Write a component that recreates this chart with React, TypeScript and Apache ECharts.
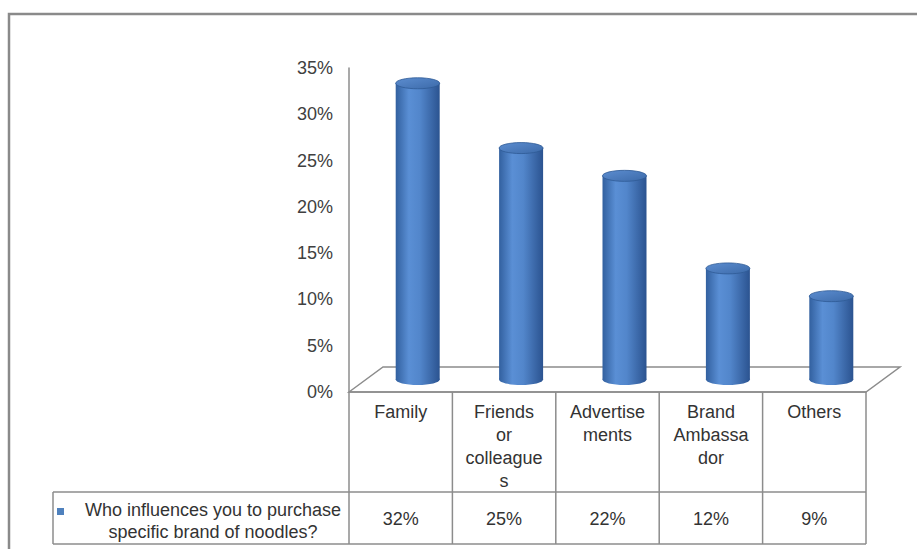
import React, { useEffect, useRef } from "react";
import * as echarts from "echarts";

// ---- data ----
const categories = ["Family", "Friends or colleagues", "Advertisements", "Brand Ambassador", "Others"];
const headerLabels = ["Family", "Friends\nor\ncolleague\ns", "Advertise\nments", "Brand\nAmbassa\ndor", "Others"];
const values = [32, 25, 22, 12, 9];
const seriesName = "Who influences you to purchase\nspecific brand of noodles?";
const yMin = 0;
const yMax = 35;
const yStep = 5;

// ---- layout ----
const FONT = "'Liberation Sans', Arial, sans-serif";
const GL = 349; // front grid left
const GT = 68; // front grid top
const GW = 517;
const GH = 324;
const DX = 34; // floor depth offset
const DY = 25;
const ROW1 = GT + GH + 100; // values row top
const ROW2 = ROW1 + 52;
const LEG_L = 53;
const LINE = "#8c8c8c";

export default function App() {
  const ref = useRef<HTMLDivElement>(null);
  useEffect(() => {
    if (!ref.current) return;
    const chart = echarts.init(ref.current, undefined, { renderer: "svg" });
    const floorY = GT + GH;
    const cols = categories.map((_, i) => GL + (i * GW) / categories.length).concat([GL + GW]);

    const bodyGrad = new echarts.graphic.LinearGradient(0, 0, 1, 0, [
      { offset: 0, color: "#32609f" },
      { offset: 0.3, color: "#5a8fd5" },
      { offset: 0.55, color: "#5286cb" },
      { offset: 1, color: "#2b5390" },
    ]);
    const topGrad = new echarts.graphic.LinearGradient(0, 0, 1, 1, [
      { offset: 0, color: "#5c8dd0" },
      { offset: 1, color: "#3c6aa9" },
    ]);

    const tableLines: any[] = [];
    const hline = (x1: number, x2: number, y: number) =>
      tableLines.push({ type: "line", z: 10, shape: { x1, y1: y, x2, y2: y }, style: { stroke: LINE, lineWidth: 1.5 } });
    const vline = (x: number, y1: number, y2: number) =>
      tableLines.push({ type: "line", z: 10, shape: { x1: x, y1, x2: x, y2 }, style: { stroke: LINE, lineWidth: 1.5 } });
    hline(GL, GL + GW, floorY);
    hline(LEG_L, GL + GW, ROW1);
    hline(LEG_L, GL + GW, ROW2);
    vline(LEG_L, ROW1, ROW2);
    cols.forEach((x) => vline(x, floorY, ROW2));

    const option: any = {
      animation: false,
      grid: [
        { left: GL, top: GT, width: GW, height: GH },
        { left: GL + DX / 2, top: GT - DY / 2, width: GW, height: GH },
      ],
      xAxis: [
        {
          gridIndex: 0,
          type: "category",
          data: headerLabels,
          axisLine: { show: false },
          axisTick: { show: false },
          splitLine: { show: false },
          axisLabel: { interval: 0, margin: 8, fontSize: 18, lineHeight: 23, color: "#333", fontFamily: FONT },
        },
        {
          gridIndex: 0,
          type: "category",
          position: "bottom",
          offset: ROW1 - floorY,
          data: values.map((v) => v + "%"),
          axisLine: { show: false },
          axisTick: { show: false },
          splitLine: { show: false },
          axisLabel: { interval: 0, margin: 15, fontSize: 18, lineHeight: 23, color: "#333", fontFamily: FONT },
        },
        { gridIndex: 1, type: "category", data: categories, show: false },
      ],
      yAxis: [
        {
          gridIndex: 0,
          type: "value",
          min: yMin,
          max: yMax,
          interval: yStep,
          axisLine: { show: true, lineStyle: { color: LINE, width: 1.5 } },
          axisTick: { show: false },
          splitLine: { show: false },
          axisLabel: { formatter: "{value}%", margin: 16, fontSize: 18, color: "#404040", fontFamily: FONT },
        },
        { gridIndex: 1, type: "value", min: yMin, max: yMax, interval: yStep, show: false, splitLine: { show: false } },
      ],
      graphic: [
        {
          type: "rect",
          z: 0,
          shape: { x: 9, y: 14, width: 1000, height: 700 },
          style: { fill: "none", stroke: "#8a8a8a", lineWidth: 2.5 },
        },
        {
          type: "polygon",
          z: 0,
          shape: { points: [[GL, floorY], [GL + DX, floorY - DY], [GL + GW + DX, floorY - DY], [GL + GW, floorY]] },
          style: { fill: "#fff", stroke: LINE, lineWidth: 1.5 },
        },
        ...tableLines,
        {
          type: "rect",
          z: 10,
          shape: { x: 57, y: 508, width: 7, height: 7 },
          style: { fill: "#4f81bd" },
        },
        {
          type: "text",
          z: 10,
          x: 213,
          y: (ROW1 + ROW2) / 2 + 3,
          style: {
            text: seriesName,
            align: "center",
            verticalAlign: "middle",
            fontSize: 18,
            lineHeight: 22,
            fill: "#333",
            fontFamily: FONT,
          },
        },
      ],
      series: [
        {
          type: "custom",
          name: seriesName,
          xAxisIndex: 2,
          yAxisIndex: 1,
          z: 5,
          data: values.map((v, i) => [i, v]),
          renderItem: (params: any, api: any) => {
            const x = api.value(0);
            const v = api.value(1);
            const top = api.coord([x, v]);
            const base = api.coord([x, 0]);
            const w = 44;
            const ry = 5.5;
            return {
              type: "group",
              children: [
                {
                  type: "rect",
                  shape: { x: top[0] - w / 2, y: top[1], width: w, height: base[1] - top[1] },
                  style: { fill: bodyGrad },
                },
                {
                  type: "ellipse",
                  shape: { cx: base[0], cy: base[1], rx: w / 2, ry },
                  style: { fill: bodyGrad },
                },
                {
                  type: "ellipse",
                  shape: { cx: top[0], cy: top[1], rx: w / 2, ry },
                  style: { fill: topGrad, stroke: "#2f5a96", lineWidth: 0.8 },
                },
              ],
            };
          },
        },
      ],
    };
    chart.setOption(option);
    return () => chart.dispose();
  }, []);
  return (
    <div
      ref={ref}
      style={{ position: "fixed", left: 0, top: 0, width: 917, height: 549, background: "#fff" }}
    />
  );
}
